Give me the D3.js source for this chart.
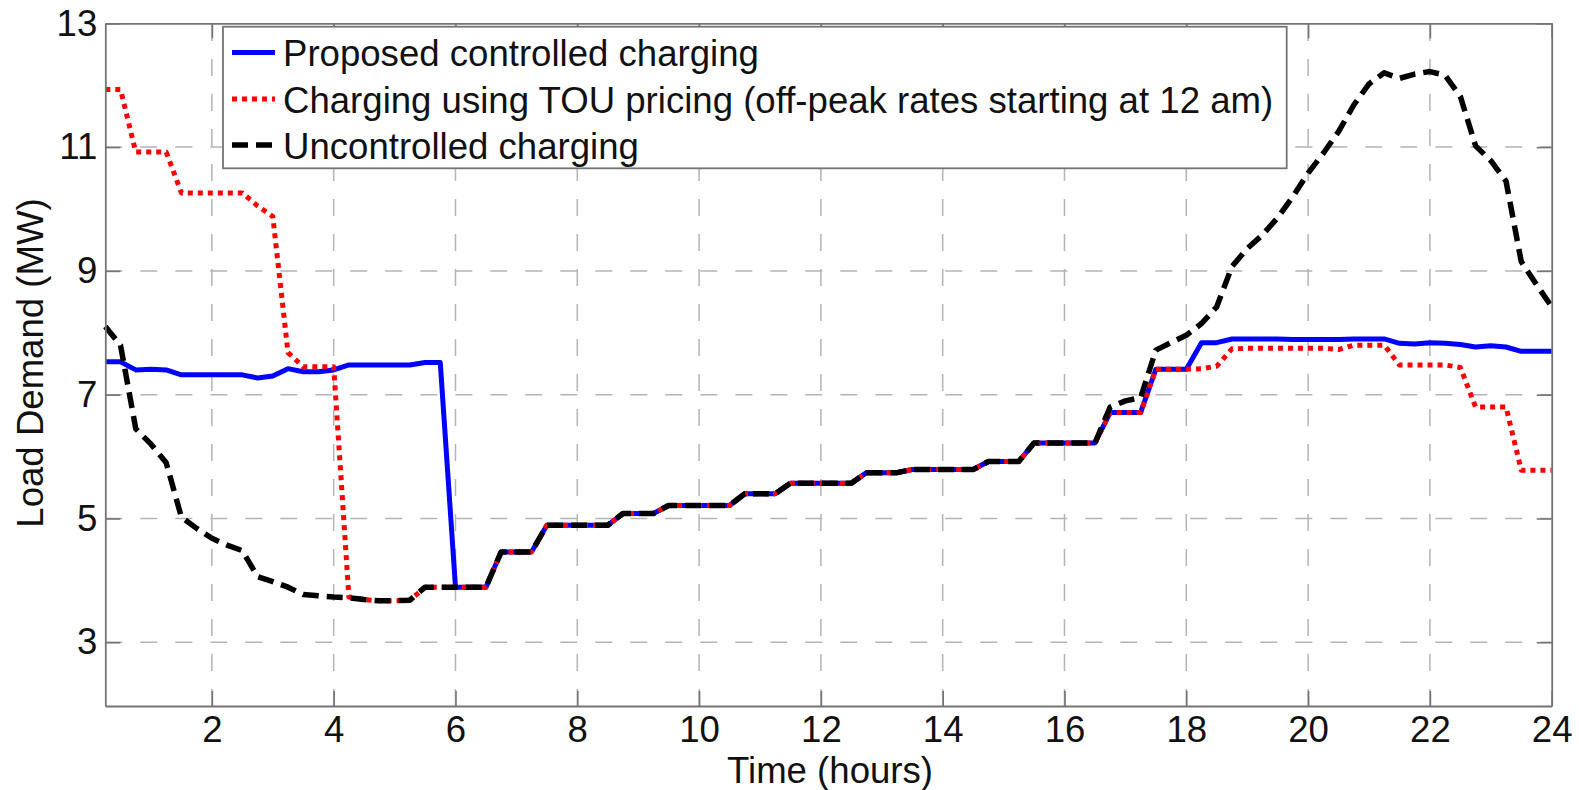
<!DOCTYPE html>
<html><head><meta charset="utf-8">
<script src="https://cdn.jsdelivr.net/npm/d3@7"></script>
<style>
html,body{margin:0;padding:0;background:#fff;}
svg{display:block;font-family:"Liberation Sans",Arial,Helvetica,sans-serif;}
</style>
</head><body>
<svg id="chart" width="1579" height="790"></svg>
<script>
// ---- data (15-minute samples, hours 0.25 .. 24) ----
const hours = [0.25,0.5,0.75,1,1.25,1.5,1.75,2,2.25,2.5,2.75,3,3.25,3.5,3.75,4,4.25,4.5,4.75,5,5.25,5.5,5.75,6,
  6.25,6.5,6.75,7,7.25,7.5,7.75,8,8.25,8.5,8.75,9,9.25,9.5,9.75,10,10.25,10.5,10.75,11,11.25,11.5,11.75,12,
  12.25,12.5,12.75,13,13.25,13.5,13.75,14,14.25,14.5,14.75,15,15.25,15.5,15.75,16,16.25,16.5,16.75,17,17.25,17.5,17.75,18,
  18.25,18.5,18.75,19,19.25,19.5,19.75,20,20.25,20.5,20.75,21,21.25,21.5,21.75,22,22.25,22.5,22.75,23,23.25,23.5,23.75,24];

const controlledCharging = [7.53,7.53,7.40,7.41,7.40,7.32,7.32,7.32,7.32,7.32,7.27,7.30,7.42,7.37,7.37,7.40,7.48,7.48,7.48,7.48,7.48,
  7.52,7.52,
  3.89,3.89,3.89,4.46,4.46,4.46,4.89,4.89,4.89,4.89,4.89,5.08,5.08,5.08,5.21,5.21,5.21,5.21,5.21,5.40,5.40,5.40,
  5.57,5.57,5.57,5.57,5.57,5.74,5.74,5.74,5.79,5.79,5.79,5.79,5.79,5.92,5.92,5.92,6.22,6.22,6.22,6.22,6.22,
  6.71,6.71,6.71,7.41,7.41,7.41,
  7.84,7.84,7.90,7.90,7.90,7.90,7.89,7.89,7.89,7.89,7.90,7.90,7.90,7.83,7.82,7.84,7.83,7.81,7.77,7.79,7.77,7.70,7.70,7.70];

const touCharging = [11.93,11.93,10.92,10.92,10.92,10.26,10.26,10.26,10.26,10.26,10.05,9.88,7.68,7.45,7.45,7.45,3.73,3.69,3.67,3.67,3.68,
  3.89,3.89,
  3.89,3.89,3.89,4.46,4.46,4.46,4.89,4.89,4.89,4.89,4.89,5.08,5.08,5.08,5.21,5.21,5.21,5.21,5.21,5.40,5.40,5.40,
  5.57,5.57,5.57,5.57,5.57,5.74,5.74,5.74,5.79,5.79,5.79,5.79,5.79,5.92,5.92,5.92,6.22,6.22,6.22,6.22,6.22,
  6.71,6.71,6.71,7.41,7.41,7.41,
  7.42,7.46,7.74,7.75,7.75,7.75,7.75,7.75,7.75,7.73,7.80,7.80,7.80,7.48,7.48,7.48,7.48,7.44,6.80,6.80,6.80,5.78,5.78,5.78];

const uncontrolledCharging = [8.10,7.80,6.45,6.20,5.90,5.02,4.84,4.68,4.57,4.48,4.06,3.98,3.89,3.77,3.75,3.73,3.72,3.69,3.67,3.67,3.68,
  3.89,3.89,
  3.89,3.89,3.89,4.46,4.46,4.46,4.89,4.89,4.89,4.89,4.89,5.08,5.08,5.08,5.21,5.21,5.21,5.21,5.21,5.40,5.40,5.40,
  5.57,5.57,5.57,5.57,5.57,5.74,5.74,5.74,5.79,5.79,5.79,5.79,5.79,5.92,5.92,5.92,6.22,6.22,6.22,6.22,6.22,
  6.80,6.90,6.95,7.72,7.84,7.96,8.15,8.42,9.07,9.36,9.58,9.86,10.20,10.58,10.90,11.25,11.68,12.02,12.20,12.11,
  12.18,12.22,12.16,11.82,11.02,10.78,10.45,9.15,8.78,8.42];

const seriesLabels = ["Proposed controlled charging",
  "Charging using TOU pricing (off-peak rates starting at 12 am)",
  "Uncontrolled charging"];
const xTickValues = [2,4,6,8,10,12,14,16,18,20,22,24];
const yTickValues = [3,5,7,9,11,13];
const xTitle = "Time (hours)";
const yTitle = "Load Demand (MW)";

// ---- layout ----
const svg = d3.select("#chart");
const plot = {left:105.3, right:1551.7, top:23.3, bottom:706};
const x = d3.scaleLinear().domain([0.25, 24]).range([plot.left, plot.right]);
const y = d3.scaleLinear().domain([1.97, 13]).range([plot.bottom, plot.top]);
const FONT = 36.6;
const axisColor = "#747474";

svg.append("rect").attr("width",1579).attr("height",790).attr("fill","#fff");

// grid
const grid = svg.append("g").attr("stroke","#b4b4b4").attr("stroke-width",1.5).attr("stroke-dasharray","17,18");
grid.selectAll("line.vx").data(xTickValues.filter(v=>v<24)).join("line")
  .attr("x1",d=>x(d)).attr("x2",d=>x(d)).attr("y1",plot.bottom).attr("y2",plot.top);
grid.selectAll("line.hy").data(yTickValues.filter(v=>v<13)).join("line")
  .attr("x1",plot.left).attr("x2",plot.right).attr("y1",d=>y(d)).attr("y2",d=>y(d));

// lines
const lineGen = d3.line().x((d,i)=>x(hours[i])).y(d=>y(d));
const styles = [
  {data: controlledCharging, color:"#0000ff", dash:null, width:5},
  {data: touCharging, color:"#ff0000", dash:"5,5", width:5},
  {data: uncontrolledCharging, color:"#000000", dash:"16,8", width:5.5}
];
styles.forEach(s=>{
  svg.append("path").datum(s.data).attr("d",lineGen)
    .attr("fill","none").attr("stroke",s.color).attr("stroke-width",s.width)
    .attr("stroke-linejoin","round")
    .attr("stroke-dasharray",s.dash);
});

// axes
function styleAxis(g){
  g.selectAll(".domain").attr("stroke",axisColor).attr("stroke-width",1.8);
  g.selectAll(".tick line").attr("stroke",axisColor).attr("stroke-width",1.6);
  g.selectAll("text").attr("font-size",FONT).attr("font-family","'Liberation Sans',Arial,sans-serif").attr("fill","#111");
}
svg.append("g").attr("transform",`translate(0,${plot.bottom})`)
  .call(d3.axisBottom(x).tickValues(xTickValues).tickSize(-15).tickSizeOuter(0).tickPadding(10).tickFormat(d3.format("d")))
  .call(styleAxis);
svg.append("g").attr("transform",`translate(${plot.left},0)`)
  .call(d3.axisLeft(y).tickValues(yTickValues).tickSize(-15).tickSizeOuter(0).tickPadding(8).tickFormat(d3.format("d")))
  .call(styleAxis);
svg.append("g").attr("transform",`translate(0,${plot.top})`)
  .call(d3.axisTop(x).tickValues(xTickValues).tickSize(-15).tickSizeOuter(0).tickFormat(""))
  .call(styleAxis);
svg.append("g").attr("transform",`translate(${plot.right},0)`)
  .call(d3.axisRight(y).tickValues(yTickValues).tickSize(-15).tickSizeOuter(0).tickFormat(""))
  .call(styleAxis);

// axis titles
svg.append("text").attr("x",830).attr("y",782.5).attr("text-anchor","middle")
  .attr("font-size",FONT).attr("fill","#111").text(xTitle);
svg.append("text").attr("transform","translate(43,363) rotate(-90)").attr("text-anchor","middle")
  .attr("font-size",FONT).attr("fill","#111").text(yTitle);

// legend
const lg = svg.append("g");
lg.append("rect").attr("x",223).attr("y",26.7).attr("width",1063.7).attr("height",141.6)
  .attr("fill","#fff").attr("stroke",axisColor).attr("stroke-width",1.8);
const rowBase = [66, 112.5, 158.5];
styles.forEach((s,i)=>{
  lg.append("line").attr("x1",232).attr("x2",275).attr("y1",rowBase[i]-13.5).attr("y2",rowBase[i]-13.5)
    .attr("stroke",s.color).attr("stroke-width",s.width).attr("stroke-dasharray",s.dash);
  lg.append("text").attr("x",283).attr("y",rowBase[i]).attr("font-size",FONT).attr("fill","#111").text(seriesLabels[i]);
});
</script>
</body></html>
